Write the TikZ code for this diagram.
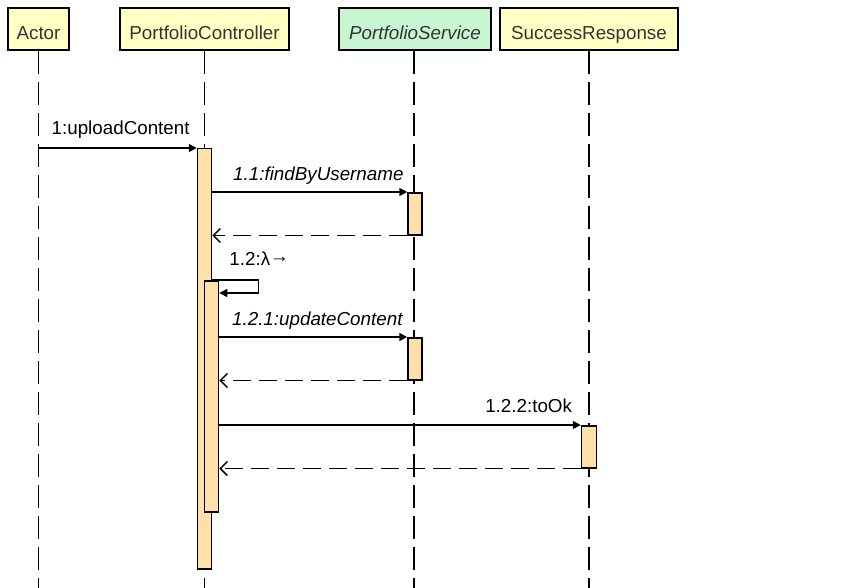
\documentclass[tikz,border=0pt]{standalone}
\usepackage{fontspec}
\setmainfont{Liberation Sans}
\usepackage{tikz}
\usepackage{xcolor}
\usetikzlibrary{positioning}
\usetikzlibrary{calc}
\usetikzlibrary{arrows.meta}
\definecolor{headyellow}{RGB}{255, 255, 196}
\definecolor{headgreen}{RGB}{200, 246, 210}
\definecolor{actfill}{RGB}{255, 224, 168}
\definecolor{headtext}{RGB}{51, 51, 51}
\tikzstyle{header} = [
	draw=black,
	line width=1.5pt,
	fill=headyellow,
	text=headtext,
	minimum height=42pt,
	text height=22pt,
	text depth=0pt,
	inner sep=0pt,
	font=\fontsize{18.8}{22}\selectfont
]
\tikzstyle{iface} = [
	header,
	fill=headgreen,
	font=\fontsize{18.8}{22}\selectfont\itshape
]
\tikzstyle{lifeline} = [
	line width=1.6pt,
	dash pattern=on 23pt off 8pt
]
\tikzstyle{activation} = [
	draw=black,
	line width=1.5pt,
	fill=actfill,
	minimum width=14pt,
	inner sep=0pt,
	anchor=north
]
\tikzstyle{call} = [
	line width=1.5pt,
	-{Triangle[length=8pt,width=8pt]}
]
\tikzstyle{reply} = [
	line width=1.5pt,
	dash pattern=on 18pt off 8pt,
	-{Straight Barb[length=7pt,width=14pt]}
]
\tikzstyle{msg} = [
	font=\fontsize{18.8}{22}\selectfont,
	inner sep=0pt
]

\begin{document}
\begin{tikzpicture}[x=1pt, y=-1pt]
	\useasboundingbox (0,0) rectangle (866,588);

	% Headers
	\node[header, minimum width=61pt] (actor) at (38.5,29) {Actor};
	\node[header, minimum width=169pt, right=49.5pt of actor] (ctrl) {PortfolioController};
	\node[iface, minimum width=152pt, right=48.5pt of ctrl] (svc) {PortfolioService};
	\node[header, minimum width=178pt, right=7.5pt of svc] (resp) {SuccessResponse};

	% Lifelines
	\coordinate (bottom) at (0,588);
	\draw[lifeline] (actor.south) -- (actor.south |- bottom);
	\draw[lifeline] (ctrl.south) -- (ctrl.south |- bottom);
	\draw[lifeline] ([xshift=-1pt]svc.south) -- ([xshift=-1pt]svc.south |- bottom);
	\draw[lifeline] (resp.south) -- (resp.south |- bottom);

	% Activations
	\node[activation, minimum height=420pt] (ctrlact) at (ctrl.south |- 0,148) {};
	\node[activation, minimum height=231pt] (nestact) at ($(ctrlact.north)+(7,132)$) {};
	\node[activation, minimum height=42pt] (svcact1) at (svc.south |- 0,192) {};
	\node[activation, minimum height=42pt] (svcact2) at (svc.south |- 0,337) {};
	\node[activation, minimum height=42pt, minimum width=15pt] (respact) at (resp.south |- 0,425) {};

	% Messages
	\draw[call] (actor.south |- ctrlact.north) -- node[msg, anchor=base, xshift=3pt, yshift=13pt] (m1) {1:uploadContent} (ctrlact.north west);
	\draw[call] (ctrlact.east |- svcact1.north) -- node[msg, pos=1, anchor=base east, xshift=-3pt, yshift=12pt] (m11) {\itshape 1.1:findByUsername} (svcact1.north west);
	\draw[reply] (svcact1.south west) -- (ctrlact.east |- svcact1.south);
	\draw[call] (ctrlact.east |- nestact.north) -- ++(46,0) |- ([yshift=-13pt]nestact.north east);
	\node[msg, anchor=base west] (m12) at ($(nestact.north east)+(10,-15)$) {1.2:λ\raisebox{3pt}{→}};
	\draw[call] (nestact.east |- svcact2.north) -- node[msg, pos=1, anchor=base east, xshift=-4pt, yshift=12pt] (m121) {\itshape 1.2.1:updateContent} (svcact2.north west);
	\draw[reply] (svcact2.south west) -- (nestact.east |- svcact2.south);
	\draw[call] (nestact.east |- respact.north) -- node[msg, pos=1, anchor=base east, xshift=-8pt, yshift=13pt] (m122) {1.2.2:toOk} (respact.north west);
	\draw[reply] (respact.south west) -- (nestact.east |- respact.south);

\end{tikzpicture}
\end{document}
